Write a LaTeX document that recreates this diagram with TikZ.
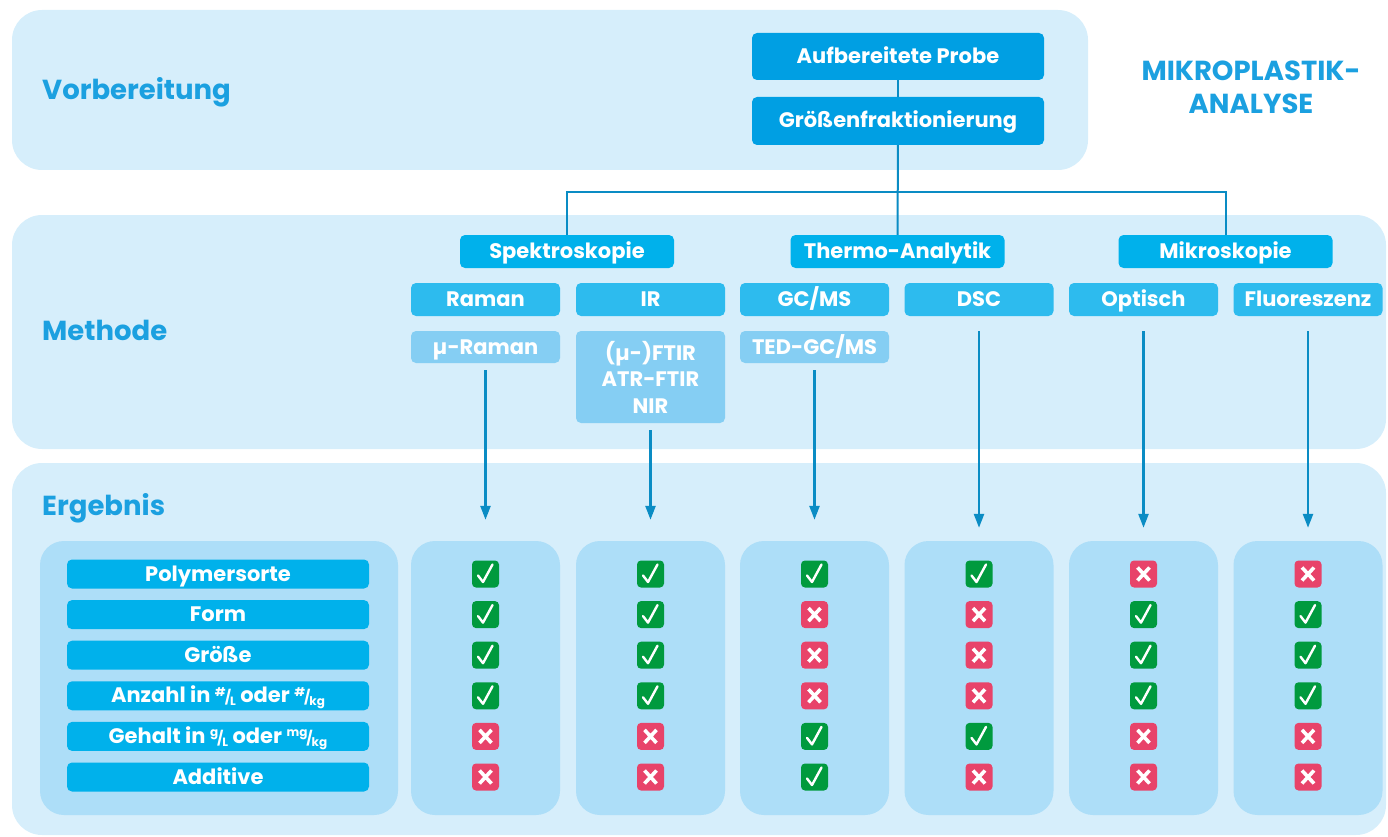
\documentclass[tikz,border=0pt]{standalone}
\usepackage{fontspec}
\setmainfont{Poppins}
\usetikzlibrary{arrows.meta, positioning, calc}
\definecolor{panelc}{HTML}{D6EEFB}
\definecolor{colc}{HTML}{ADDEF8}
\definecolor{darkc}{HTML}{009FE3}
\definecolor{catc}{HTML}{00B1EB}
\definecolor{methc}{HTML}{2DBBEE}
\definecolor{subc}{HTML}{85CEF3}
\definecolor{headc}{HTML}{1BA0E0}
\definecolor{linec}{HTML}{0A8CC4}
\definecolor{okc}{HTML}{009A3E}
\definecolor{noc}{HTML}{E8436A}
\newcommand{\boxfont}{\fontsize{21}{26.5}\selectfont\bfseries}
\newcommand{\headfont}{\fontsize{27.5}{33}\selectfont\bfseries}
\newcommand{\ufrac}[2]{\raisebox{0.55ex}{\fontsize{12}{12}\selectfont#1}\kern-0.05em{\fontsize{14}{14}\selectfont/}\kern-0.05em\raisebox{-0.25ex}{\fontsize{12}{12}\selectfont#2}}
\newcommand{\okmark}[2]{%
  \node[markbox, fill=okc] (#1) at #2 {};
  \draw[white, line width=2.4pt, line cap=round, line join=round]
    ($(#1.center)+(-7.5,1.5)$) -- ($(#1.center)+(-2.5,8)$) -- ($(#1.center)+(7,-9.5)$);
}
\newcommand{\nomark}[2]{%
  \node[markbox, fill=noc] (#1) at #2 {};
  \draw[white, line width=3.6pt]
    ($(#1.center)+(-6,-6.5)$) -- ($(#1.center)+(6,6.5)$)
    ($(#1.center)+(-6,6.5)$) -- ($(#1.center)+(6,-6.5)$);
}

\begin{document}
\begin{tikzpicture}[x=1pt, y=-1pt, >={Triangle[length=14pt, width=10pt]},
    panel/.style={fill=panelc, rounded corners=30pt},
    colpanel/.style={fill=colc, rounded corners=24pt, inner sep=0pt,
      minimum width=149pt, minimum height=274pt},
    boxbase/.style={rounded corners=5pt, text=white, font=\boxfont,
      inner sep=0pt, minimum width=149pt, minimum height=33pt, align=center},
    flowbox/.style={boxbase, text height=14pt, text depth=0pt},
    markbox/.style={rounded corners=4pt, inner sep=0pt, minimum size=27pt},
    heading/.style={text=headc, font=\headfont, anchor=west, inner sep=0pt},
    tree/.style={linec, line width=2pt},
    flow/.style={->, linec, line width=2.5pt}]
  \useasboundingbox (0,0) rectangle (1388,837);

  % three bands
  \fill[panel] (12,10) rectangle (1088,170);
  \fill[panel] (12,215) rectangle (1386,449);
  \fill[panel] (12,463) rectangle (1386,835);
  \node[heading] (hvor) at (42,92) {Vorbereitung};
  \node[heading] (hmeth) at (42,330) {Methode};
  \node[heading] (herg) at (42,508) {Ergebnis};
  \node[text=headc, font=\headfont, align=center] (title) at (1251,87)
    {MIKROPLASTIK-\\ANALYSE};

  % preparation
  \node[flowbox, fill=darkc, minimum width=292pt, minimum height=47pt]
    (aufb) at (898,56.5) {Aufbereitete Probe};
  \node[flowbox, fill=darkc, minimum width=292pt, minimum height=48pt]
    (groesse) at (898,121) {Größenfraktionierung};
  \draw[tree] (aufb) -- (groesse);

  % method groups
  \node[flowbox, fill=catc, minimum width=214pt] (spek) at (567,251.5) {Spektroskopie};
  \node[flowbox, fill=catc, minimum width=214pt] (therm) at (897.5,251.5) {Thermo-Analytik};
  \node[flowbox, fill=catc, minimum width=214pt] (mikro) at (1225.5,251.5) {Mikroskopie};
  \coordinate (fork) at (898,192);
  \draw[tree] (groesse) -- (therm);
  \draw[tree] (spek.north) |- (fork) -| (mikro.north);

  \node[flowbox, fill=methc] (raman) at (485.5,299.5) {Raman};
  \node[flowbox, fill=methc] (ir) at (650.5,299.5) {IR};
  \node[flowbox, fill=methc] (gcms) at (814.5,299.5) {GC/MS};
  \node[flowbox, fill=methc] (dsc) at (979,299.5) {DSC};
  \node[flowbox, fill=methc] (opt) at (1143.5,299.5) {Optisch};
  \node[flowbox, fill=methc] (fluo) at (1308,299.5) {Fluoreszenz};

  \node[flowbox, fill=subc, minimum height=32pt] (muram) at (485.5,347) {µ-Raman};
  \node[boxbase, fill=subc, minimum height=92pt] (ftir) at (650.5,377)
    {(µ-)FTIR\\ATR-FTIR\\NIR};
  \node[flowbox, fill=subc, minimum height=32pt] (tedgc) at (814.5,347) {TED-GC/MS};

  % results
  \node[colpanel, minimum width=358pt] (lab) at (219,678) {};
  \foreach \x [count=\c] in {485.5,650.5,814.5,979,1143.5,1308}
    \node[colpanel] (col\c) at (\x,678) {};

  \foreach \t [count=\r] in {Polymersorte, Form, Größe,
      {Anzahl in \ufrac{\#}{L} oder \ufrac{\#}{kg}},
      {Gehalt in \ufrac{g}{L} oder \ufrac{mg}{kg}}, Additive} {
    \pgfmathsetmacro\y{533.4+40.6*\r}
    \node[flowbox, fill=catc, minimum width=302pt, minimum height=29pt]
      (row\r) at (218,\y) {\t};
  }

  \draw[flow, shorten <=7pt, shorten >=21pt] (muram) -- (col1);
  \draw[flow, shorten <=7pt, shorten >=21pt] (ftir) -- (col2);
  \draw[flow, shorten <=7pt, shorten >=21pt] (tedgc) -- (col3);
  \draw[flow, shorten <=15pt, shorten >=13pt] (dsc) -- (col4);
  \draw[flow, shorten <=15pt, shorten >=13pt] (opt) -- (col5);
  \draw[flow, shorten <=15pt, shorten >=13pt] (fluo) -- (col6);

  \foreach \x/\vals [count=\c] in {485.5/{1,1,1,1,0,0}, 650.5/{1,1,1,1,0,0},
      814.5/{1,0,0,0,1,1}, 979/{1,0,0,0,1,0}, 1143.5/{0,1,1,1,0,0},
      1308/{0,1,1,1,0,0}} {
    \foreach \v [count=\r] in \vals {
      \pgfmathsetmacro\y{533.4+40.6*\r}
      \ifnum\v=1 \okmark{m\c\r}{(\x,\y)} \else \nomark{m\c\r}{(\x,\y)} \fi
    }
  }
\end{tikzpicture}
\end{document}
